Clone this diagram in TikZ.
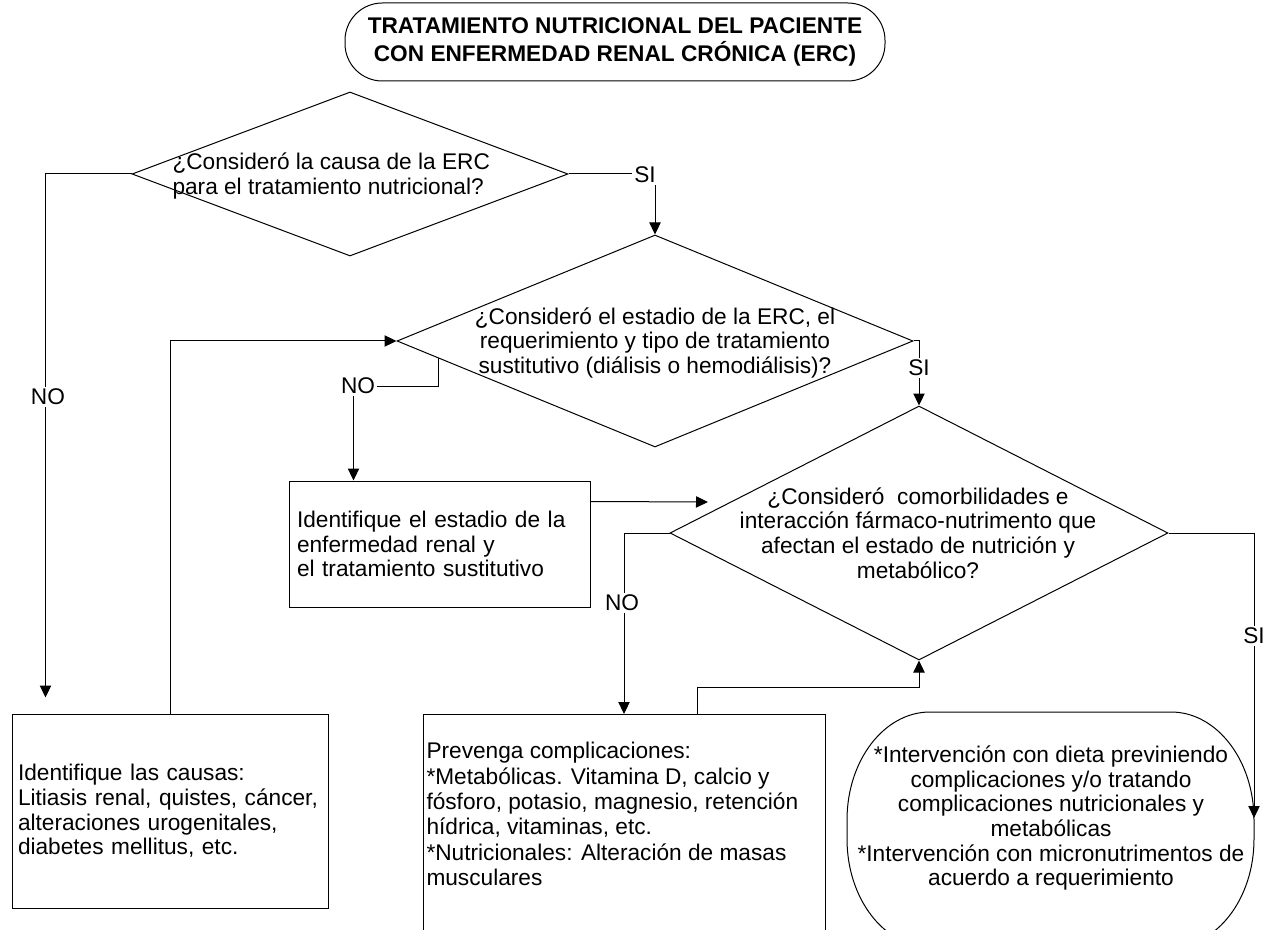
\documentclass[tikz,border=0pt]{standalone}
\usepackage{fontspec}
\setmainfont{Liberation Sans}
\usetikzlibrary{shapes.geometric,arrows.meta,calc}
\begin{document}
\begin{tikzpicture}[x=0.75pt,y=-0.75pt,
  line width=0.75pt,
  every node/.style={font=\fontsize{17}{18.5}\selectfont},
  dec/.style={diamond, draw, inner sep=0pt},
  box/.style={draw, rectangle, inner sep=0pt},
  txt/.style={inner sep=0pt, align=left},
  ctxt/.style={inner sep=0pt, align=center},
  lbl/.style={fill=white, inner sep=1.5pt},
  arr/.style={-{Triangle[length=9pt,width=8.5pt]}},
]
\useasboundingbox (0,0) rectangle (1270,930);
\clip (0,0) rectangle (1270,930);

% title
\node[draw, rounded corners=28pt, minimum width=405pt, minimum height=58.5pt,
      align=center, font=\fontsize{17}{21}\selectfont\bfseries] (title) at (615,42)
  {TRATAMIENTO NUTRICIONAL DEL PACIENTE\\CON ENFERMEDAD RENAL CRÓNICA (ERC)};

% decisions
\node[dec, minimum width=327pt, minimum height=123pt] (d1) at (350,174) {};
\node[txt, anchor=west] (d1t) at (172,176)
  {¿Consideró la causa de la ERC\\para el tratamiento nutricional?};

\node[dec, minimum width=387pt, minimum height=159pt] (d2) at (655,341) {};
\node[ctxt] (d2t) at (655,343)
  {¿Consideró el estadio de la ERC, el\\requerimiento y tipo de tratamiento\\sustitutivo (diálisis o hemodiálisis)?};

\node[dec, minimum width=373.5pt, minimum height=190.5pt] (d3) at (919,533) {};
\node[ctxt] (d3t) at (918,533)
  {¿Consideró\ \ comorbilidades e\\interacción fármaco-nutrimento que\\afectan el estado de nutrición y\\metabólico?};

% boxes
\node[box, minimum width=225.75pt, minimum height=94.5pt, text width=213.75pt,
      inner xsep=6pt, align=left] (b2) at (439.5,544)
  {Identifique el estadio de la\\enfermedad renal y\\el tratamiento sustitutivo};

\node[box, minimum width=237pt, minimum height=145.5pt, text width=228pt,
      inner xsep=4.5pt, align=left] (b1) at (170,811)
  {Identifique las causas:\\Litiasis renal, quistes, cáncer,\\alteraciones urogenitales,\\diabetes mellitus, etc.};

\node[box, anchor=north west, minimum width=301.5pt, minimum height=195pt] (b3) at (423,714) {};
\node[txt, anchor=west, font=\fontsize{17}{19}\selectfont] (b3t) at (426,814)
  {Prevenga complicaciones:\\*Metabólicas. Vitamina D, calcio y\\fósforo, potasio, magnesio, retención\\hídrica, vitaminas, etc.\\*Nutricionales: Alteración de masas\\musculares};

% terminal
\draw (847,820) arc[start angle=180,end angle=270,x radius=83,y radius=108]
  -- (1171,712) arc[start angle=270,end angle=360,x radius=83,y radius=108]
  -- (1254,839) arc[start angle=0,end angle=90,x radius=83,y radius=108]
  -- (930,947) arc[start angle=90,end angle=180,x radius=83,y radius=108] -- cycle;
\node[ctxt] (term) at (1051,818)
  {*Intervención con dieta previniendo\\complicaciones y/o tratando\\complicaciones nutricionales y\\metabólicas\\*Intervención con micronutrimentos de\\acuerdo a requerimiento};

% connector end points
\coordinate (b1in) at ($(b1.north west)+(34,-16)$);
\coordinate (b2in) at ($(b2.north west)+(65,0)$);
\coordinate (b2out) at ($(b2.north east)+(0,21)$);
\coordinate (d3in) at (708,502);
\coordinate (b3in) at ($(b3.north west)+(201,0)$);
\coordinate (b3out) at ($(b3.north west)+(274,0)$);
\coordinate (termE) at (1254,818);

% connectors
\draw[arr] (d1.east) -| (d2.north);
\draw[arr] (d1.west) -| (b1in);
\draw[arr] (d2.east) -| (d3.north);
\draw[arr] ($(d2.west)!0.163!(d2.south)$) -- ++(0,28) -| (b2in);
\draw[arr] (b2out) -- (d3in);
\draw[arr] (d3.west) -| (b3in);
\draw[arr] (b3out) -- ++(0,-27) -| (d3.south);
\draw[arr] (b1.north) |- (d2.west);
\draw[arr] (d3.east) -| (termE);

% labels
\node[lbl] (no1) at (48,397) {NO};
\node[lbl] (si1) at (645,175) {SI};
\node[lbl] (no2) at (358,386) {NO};
\node[lbl] (si2) at (919,368) {SI};
\node[lbl] (no3) at (622,603) {NO};
\node[lbl] (si3) at (1254,636) {SI};
\end{tikzpicture}
\end{document}
